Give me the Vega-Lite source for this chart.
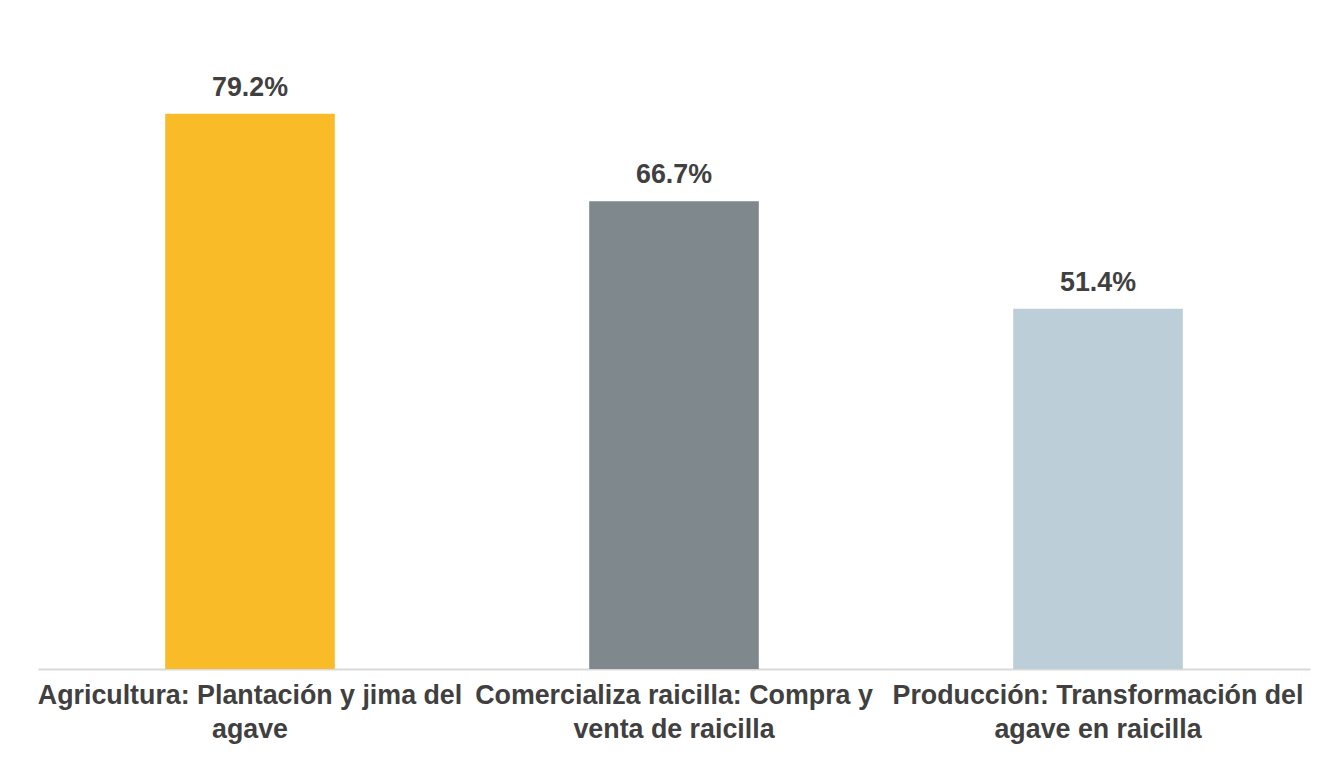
{
  "$schema": "https://vega.github.io/schema/vega-lite/v6.json",
  "autosize": "none",
  "width": 1272,
  "height": 631,
  "padding": {"left": 38, "top": 38, "right": 28, "bottom": 90},
  "background": "white",
  "config": {"view": {"stroke": null}, "font": "Liberation Sans"},
  "data": {"values": [
    {"cat": "Agricultura: Plantación y jima del|agave", "pct": 79.2, "label": "79.2%"},
    {"cat": "Comercializa raicilla: Compra y|venta de raicilla", "pct": 66.7, "label": "66.7%"},
    {"cat": "Producción: Transformación del|agave en raicilla", "pct": 51.4, "label": "51.4%"}
  ]},
  "encoding": {
    "x": {"field": "cat", "type": "nominal", "sort": null,
      "scale": {"paddingInner": 0.6, "paddingOuter": 0.3},
      "axis": {"title": null, "labelAngle": 0, "ticks": false, "domainColor": "#d9d9d9", "domainWidth": 2,
        "labelExpr": "split(datum.label, '|')", "labelFont": "Liberation Sans", "labelFontWeight": "bold",
        "labelFontSize": 26.8, "labelColor": "#404040", "labelLineHeight": 34, "labelPadding": 13, "labelLimit": 0}},
    "y": {"field": "pct", "type": "quantitative", "scale": {"domain": [0, 90]}, "axis": null}
  },
  "layer": [
    {"mark": {"type": "bar"},
     "encoding": {"color": {"field": "cat", "type": "nominal", "sort": null, "legend": null,
       "scale": {"range": ["#F9BC28", "#7F888D", "#BCCFD8"]}}}},
    {"mark": {"type": "text", "dy": -26, "font": "Liberation Sans", "fontWeight": "bold", "fontSize": 26.8, "color": "#404040"},
     "encoding": {"text": {"field": "label"}}}
  ]
}
